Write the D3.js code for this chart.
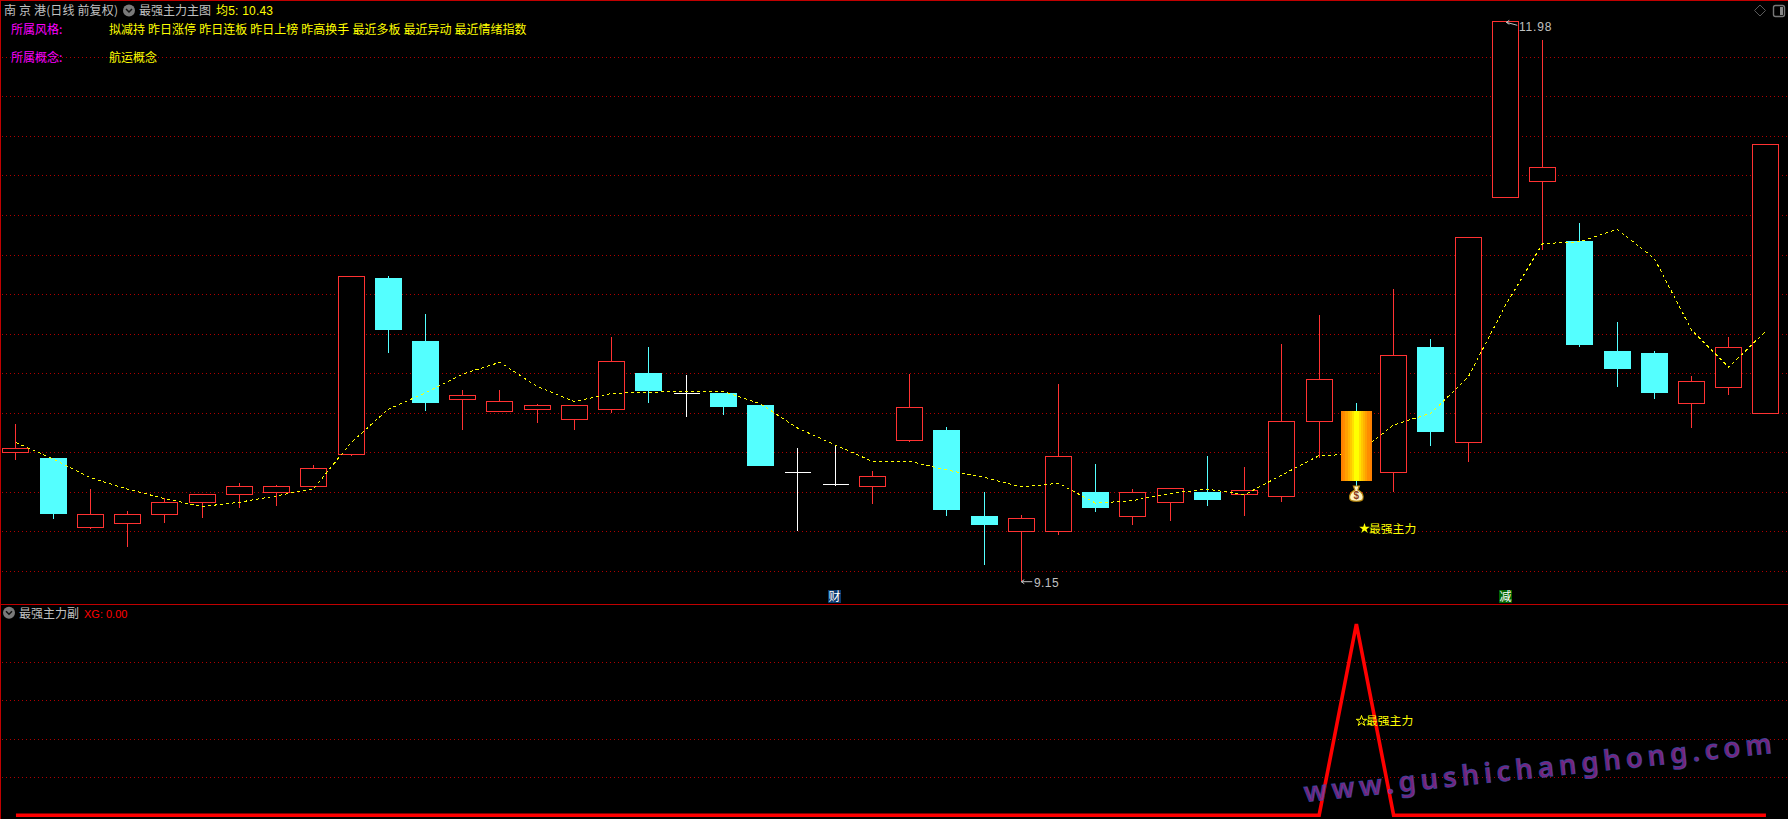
<!DOCTYPE html>
<html><head><meta charset="utf-8">
<script src="https://cdn.jsdelivr.net/npm/d3@7/dist/d3.min.js"></script>
<style>html,body{margin:0;padding:0;background:#000;overflow:hidden}svg{display:block}</style>
</head><body><svg id="c" width="1788" height="819"></svg>
<script>
const sessions = d3.range(48);
const opens = [9.798,9.771,9.419,9.439,9.484,9.545,9.586,9.596,9.626,9.790,10.682,10.363,10.066,10.005,10.015,9.965,10.015,10.201,10.098,10.100,10.039,9.699,9.638,9.626,9.859,9.913,9.478,9.398,9.398,9.599,9.474,9.545,9.599,9.586,9.575,9.955,10.009,9.697,10.333,9.849,11.088,11.169,10.869,10.312,10.302,10.046,10.127,9.995];
const closes = [9.820,9.488,9.486,9.486,9.547,9.588,9.628,9.628,9.719,10.690,10.419,10.049,10.088,10.058,10.038,10.038,10.260,10.110,10.098,10.029,9.731,9.699,9.638,9.679,10.028,9.508,9.432,9.466,9.780,9.518,9.598,9.618,9.559,9.608,9.957,10.169,9.655,10.291,9.903,10.887,11.980,11.242,10.343,10.221,10.100,10.159,10.331,11.358];
const highs = [9.943,9.771,9.614,9.502,9.570,9.588,9.643,9.635,9.734,10.690,10.692,10.498,10.115,10.115,10.044,10.038,10.383,10.333,10.191,10.100,10.039,9.822,9.832,9.705,10.196,9.926,9.598,9.481,10.145,9.741,9.614,9.618,9.781,9.726,10.348,10.494,10.049,10.626,10.373,10.887,11.980,11.885,10.960,10.459,10.312,10.186,10.383,11.358];
const lows = [9.761,9.464,9.414,9.323,9.444,9.469,9.520,9.530,9.626,9.783,10.304,10.009,9.913,10.005,9.948,9.913,10.000,10.051,9.980,9.989,9.731,9.402,9.631,9.538,9.854,9.478,9.230,9.150,9.383,9.498,9.432,9.453,9.528,9.478,9.549,9.773,9.629,9.599,9.832,9.751,11.088,10.825,10.334,10.130,10.070,9.923,10.090,9.995];
const ma5 = [9.849,9.766,9.671,9.613,9.565,9.525,9.547,9.579,9.616,9.849,10.017,10.101,10.196,10.255,10.132,10.056,10.098,10.103,10.108,10.108,10.044,9.921,9.837,9.754,9.754,9.710,9.673,9.624,9.643,9.542,9.555,9.592,9.613,9.585,9.685,9.783,9.790,9.938,9.997,10.179,10.541,10.855,10.865,10.928,10.781,10.419,10.230,10.413];
const xg = sessions.map(i => i === 36 ? 1 : 0);
const priceGrid = [11.8,11.6,11.4,11.2,11.0,10.8,10.6,10.4,10.2,10.0,9.8,9.6,9.4,9.2];
const xgGrid = [0.2,0.4,0.6,0.8];
const goldIndex = 36;
const goldBands = ["#ff8000","#ff8c00","#ffa000","#ffb400","#ffc800","#ffe000","#ffff00","#ffff00","#ffe000","#ffc800","#ffb400","#ffa000","#ff8c00","#ff8000"];
const styleTags = ["拟减持","昨日涨停","昨日连板","昨日上榜","昨高换手","最近多板","最近异动","最近情绪指数"];
const conceptTags = ["航运概念"];

const CJK = '"Noto Sans CJK SC","Noto Sans",sans-serif';
const LAT = '"Liberation Sans",sans-serif';
const MIX = '"Liberation Sans","Noto Sans CJK SC",sans-serif';
const RED = "#ff3232", CYAN = "#54ffff", FRAME = "#c00000";
const svg = d3.select("#c");
svg.append("rect").attr("width",1788).attr("height",819).attr("fill","#000");

const x = d3.scalePoint().domain(sessions).range([15.95,1765.95]);
const y = d3.scaleLinear().domain([9.15,11.98]).range([580.7,21.3]);
const ySub = d3.scaleLinear().domain([0,1]).range([815.2,624]);

function grid(scale, vals){
  const g = svg.append("g").attr("transform","translate(2,0)")
    .call(d3.axisRight(scale).tickValues(vals).tickSize(1786).tickFormat(""));
  g.select(".domain").remove();
  g.selectAll("line").attr("stroke","#b00000").attr("stroke-dasharray","1 3").attr("shape-rendering","crispEdges");
}
grid(y,priceGrid); grid(ySub,xgGrid);

// frame
const frame = svg.append("g").attr("stroke",FRAME).attr("shape-rendering","crispEdges");
frame.append("line").attr("x1",0).attr("x2",1788).attr("y1",0.5).attr("y2",0.5);
frame.append("line").attr("x1",0.5).attr("x2",0.5).attr("y1",0).attr("y2",819);
frame.append("line").attr("x1",0).attr("x2",1788).attr("y1",604.5).attr("y2",604.5);

// candles
const rows = sessions.map(i => ({i,o:opens[i],c:closes[i],h:highs[i],l:lows[i]}));
const colorOf = d => d.i===goldIndex ? CYAN : d.c>d.o ? RED : d.c<d.o ? CYAN : "#ffffff";
const cg = svg.append("g").attr("shape-rendering","crispEdges");
const px = d => Math.floor(x(d.i))+0.5;
cg.selectAll("line.w").data(rows).join("line").attr("class","w")
  .attr("x1",px).attr("x2",px)
  .attr("y1",d=>y(d.h)).attr("y2",d=>y(d.l))
  .attr("stroke",colorOf);
const bodyW = 26;
cg.selectAll("rect.up").data(rows.filter(d=>d.c>d.o)).join("rect").attr("class","up")
  .attr("x",d=>px(d)-bodyW/2).attr("width",bodyW)
  .attr("y",d=>y(d.c)).attr("height",d=>y(d.o)-y(d.c))
  .attr("fill","#000").attr("stroke",RED);
cg.selectAll("rect.down").data(rows.filter(d=>d.c<d.o && d.i!==goldIndex)).join("rect").attr("class","down")
  .attr("x",d=>px(d)-bodyW/2-0.5).attr("width",bodyW+1)
  .attr("y",d=>y(d.o)).attr("height",d=>y(d.c)-y(d.o))
  .attr("fill",CYAN);
cg.selectAll("line.d").data(rows.filter(d=>d.c===d.o)).join("line").attr("class","d")
  .attr("x1",d=>px(d)-13).attr("x2",d=>px(d)+13)
  .attr("y1",d=>y(d.o)).attr("y2",d=>y(d.o)).attr("stroke","#fff");

// MA5
svg.append("path").datum(ma5)
  .attr("d",d3.line().x((d,i)=>x(i)).y(d=>y(d)))
  .attr("fill","none").attr("stroke","#ffff00").attr("stroke-width",1).attr("stroke-dasharray","3 3")
  .attr("shape-rendering","crispEdges");

// gold candle, painted over the average
const gd = rows[goldIndex];
const bandW = d3.scaleBand().domain(d3.range(goldBands.length)).range([x(goldIndex)-15.5,x(goldIndex)+15.5]);
svg.append("g").attr("shape-rendering","crispEdges").selectAll("rect").data(goldBands).join("rect")
  .attr("x",(d,i)=>bandW(i)).attr("width",bandW.bandwidth()+0.5)
  .attr("y",y(gd.o)).attr("height",y(gd.c)-y(gd.o)).attr("fill",d=>d);

// money bag
const bag = svg.append("g").attr("transform",`translate(${x(goldIndex)},${y(gd.l)+8})`);
bag.append("path").attr("d","M-3,-8 L3,-8 L1.5,-4 C6,-2 7.5,2 6.5,5 C5.5,8 -5.5,8 -6.5,5 C-7.5,2 -6,-2 -1.5,-4 Z")
  .attr("fill","#fff3c0").attr("stroke","#b8860b").attr("stroke-width",1.2);
bag.append("text").attr("x",0).attr("y",5).attr("text-anchor","middle").attr("font-family","Liberation Sans")
  .attr("font-size",10).attr("font-weight","bold").attr("fill","#8a3a20").text("$");

// sub-panel line
svg.append("path").datum(xg)
  .attr("d",d3.line().x((d,i)=>x(i)).y(d=>ySub(d)))
  .attr("fill","none").attr("stroke","#ff0000").attr("stroke-width",3.6).attr("stroke-linejoin","miter");

function t(xp,yp,s,col,fam,size,extra){
  const n = svg.append("text").attr("x",xp).attr("y",yp).attr("fill",col)
    .attr("font-family",fam||CJK).attr("font-size",size||12).text(s);
  if(extra) extra(n);
  return n;
}
function chevIcon(cx,cy){
  svg.append("circle").attr("cx",cx).attr("cy",cy).attr("r",6).attr("fill","#7a7a7a");
  svg.append("path").attr("d",`M${cx-3},${cy-1.5} L${cx},${cy+1.5} L${cx+3},${cy-1.5}`)
    .attr("fill","none").attr("stroke","#111").attr("stroke-width",1.5);
}
// header
t(4,15,"南 京 港(日线 前复权)","#c0c0c0",CJK,12,n=>n.attr("letter-spacing",0.15));
chevIcon(129,10.5);
t(139,15,"最强主力主图","#c0c0c0");
t(216,15,"均5: 10.43","#ffff00",MIX,12,n=>n.attr("letter-spacing",0.2));
t(11,34,"所属风格:","#ff00ff");
t(109,34,styleTags.join(" "),"#ffff00",CJK,12,n=>n.attr("word-spacing",0.4));
t(11,62,"所属概念:","#ff00ff");
t(109,62,conceptTags.join(" "),"#ffff00");
// sub header
chevIcon(9,612.7);
t(19,617.5,"最强主力副","#c0c0c0");
t(84,617.5,"XG: 0.00","#ff0000",LAT,11);

// extrema labels
function arrow(x0,y0,len,slope){
  svg.append("path").attr("d",`M${x0},${y0} L${x0+len},${y0+slope} M${x0},${y0} l3,-2 M${x0},${y0} l3,2`)
    .attr("fill","none").attr("stroke","#c0c0c0");
}
arrow(x(40)+1,y(11.98)+1,11,3);
t(1519,30.5,"11.98","#c0c0c0",LAT,12,n=>n.attr("letter-spacing",0.8));
arrow(x(27),y(9.15)+1,11,0);
t(1034,587,"9.15","#c0c0c0",LAT,12,n=>n.attr("letter-spacing",0.4));

// flags
function flag(cx,ch,bg,col){
  svg.append("rect").attr("x",cx-6.5).attr("y",590).attr("width",13).attr("height",13).attr("fill",bg);
  t(cx,601,ch,col,CJK,12,n=>n.attr("text-anchor","middle"));
}
flag(834.5,"财","#0a3a6e","#ffffff");
flag(1505.5,"减","#006400","#ffffff");

// signal labels
const star = d3.symbol().type(d3.symbolStar).size(34);
svg.append("path").attr("d",star()).attr("transform","translate(1364.5,528.5)").attr("fill","#ffff00");
t(1369,532.5,"最强主力","#ffff00",CJK,11.8);
svg.append("path").attr("d",star()).attr("transform","translate(1361.5,721)").attr("fill","none").attr("stroke","#ffff00");
t(1366,725,"最强主力","#ffff00",CJK,11.8);

// corner icons
svg.append("path").attr("d","M1760,5 L1765.5,10.5 L1760,16 L1754.5,10.5 Z").attr("fill","none").attr("stroke","#5a5a5a");
svg.append("rect").attr("x",1773.5).attr("y",5.5).attr("width",11).attr("height",11).attr("rx",2)
  .attr("fill","none").attr("stroke","#777").attr("stroke-width",1.4);
svg.append("rect").attr("x",1780).attr("y",7).attr("width",3).attr("height",8).attr("fill","#888");

// watermark
svg.append("text").attr("transform","translate(1305,802) rotate(-6)")
  .attr("font-family",'"Noto Sans",sans-serif').attr("font-size",27.5).attr("font-weight",600)
  .attr("textLength",470).attr("lengthAdjust","spacing")
  .attr("fill","#902a90").attr("fill-opacity",0.85).attr("stroke","#3c4fb0").attr("stroke-width",1).attr("stroke-opacity",0.75)
  .text("www.gushichanghong.com");
</script></body></html>
